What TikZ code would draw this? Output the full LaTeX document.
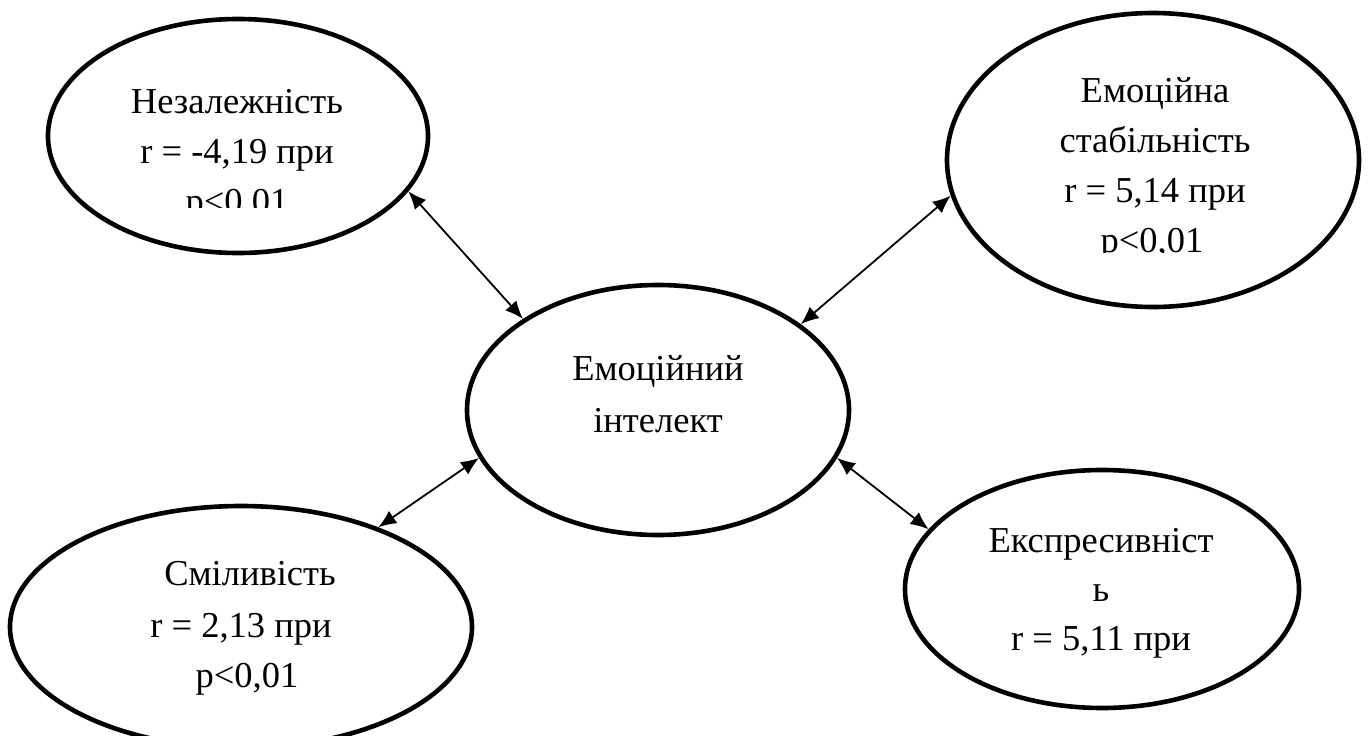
\documentclass[tikz,border=0pt]{standalone}
\usepackage{fontspec}
\setmainfont{Liberation Serif}
\usetikzlibrary{arrows.meta,shapes.geometric}
\begin{document}
\begin{tikzpicture}[x=1pt,y=-1pt,
  ell/.style={draw, ellipse, line width=4.6pt, inner sep=0pt},
  txt/.style={anchor=base, inner sep=0pt, font=\fontsize{36.5}{50}\selectfont},
  link/.style={{Latex[length=18pt,width=15pt]}-{Latex[length=18pt,width=15pt]}, line width=1.8pt}]
\useasboundingbox (0,0) rectangle (1369,736);
% ellipses
\node[ell, minimum width=380pt, minimum height=234pt] (tl) at (238,136) {};
\node[ell, minimum width=412pt, minimum height=294pt] (tr) at (1153,160) {};
\node[ell, minimum width=382pt, minimum height=250pt] (c)  at (658,410) {};
\node[ell, minimum width=462pt, minimum height=242pt] (bl) at (241,627) {};
\node[ell, minimum width=394pt, minimum height=238pt] (br) at (1102,589) {};
% texts
\begin{scope}
  \clip (0,0) rectangle (1369,207);
  \node[txt] (tl1) at (237,113) {Незалежність};
  \node[txt] (tl2) at (237,163) {r = -4,19 при};
  \node[txt] (tl3) at (237,213) {p<0,01};
\end{scope}
\begin{scope}
  \clip (0,0) rectangle (1369,252);
  \node[txt] (tr1) at (1155,102) {Емоційна};
  \node[txt] (tr2) at (1155,152) {стабільність};
  \node[txt] (tr3) at (1155,202) {r = 5,14 при};
  \node[txt] (tr4) at (1152,252) {p<0,01};
\end{scope}
\node[txt] (c1) at (658,380) {Емоційний};
\node[txt] (c2) at (658,432) {інтелект};
\node[txt] (bl1) at (250,585) {Сміливість};
\node[txt] (bl2) at (241,637) {r = 2,13 при};
\node[txt] (bl3) at (247,687) {p<0,01};
\node[txt] (br1) at (1101,552) {Експресивніст};
\node[txt] (br2) at (1101,601) {ь};
\node[txt] (br3) at (1101,650) {r = 5,11 при};
% connectors
\draw[link] (tl.-18) -- (c.146);
\draw[link] (tr.190) -- (c.31);
\draw[link] (bl.36) -- (c.195);
\draw[link] (br.161) -- (c.-15);
\end{tikzpicture}
\end{document}
